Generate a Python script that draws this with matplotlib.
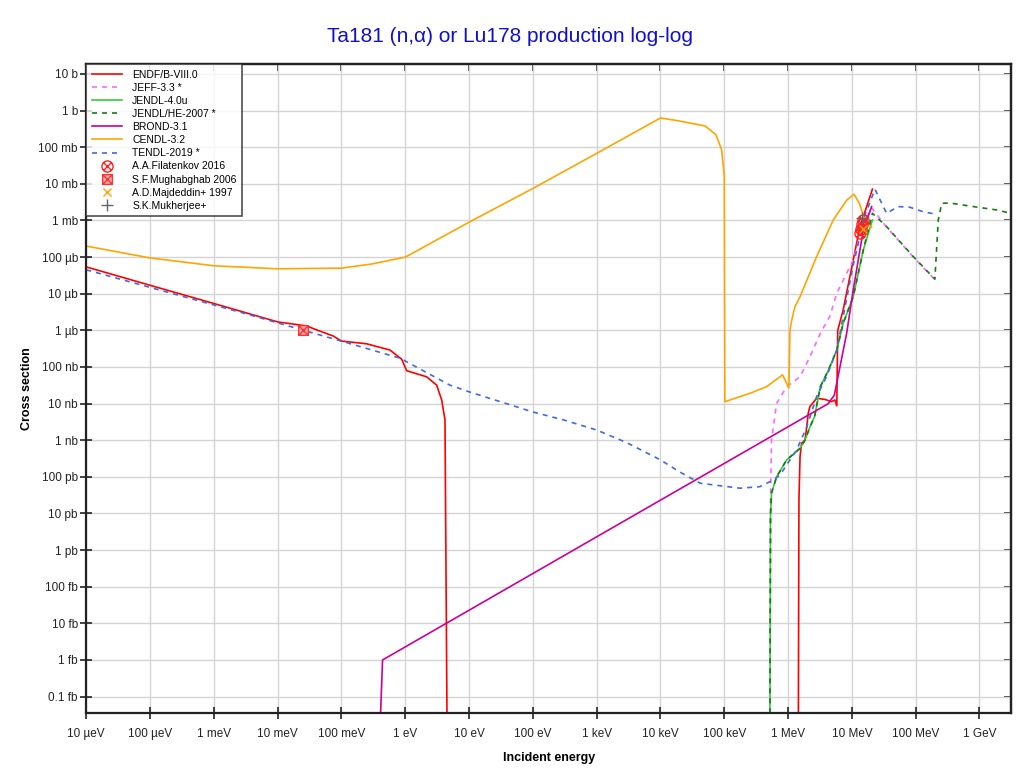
import numpy as np
import matplotlib
matplotlib.use("Agg")
import matplotlib.pyplot as plt
from matplotlib.path import Path

# ---------------- data (energy in eV, cross section in barn) ----------------
endf_E = [1e-5, 1e-4, 1e-3, 1e-2, 0.0285, 0.0408, 0.0743, 0.1, 0.248, 0.575, 0.878,
          1.05, 2.16, 3.1, 3.72, 4.19, 4.5, 1.45e6, 1.48e6, 1.54e6, 1.63e6, 1.84e6,
          1.96e6, 2.07e6, 2.2e6, 2.8e6, 3.8e6, 4.8e6, 5.4e6, 5.8e6, 6.0e6, 7.3e6,
          1.05e7, 1.34e7, 2.1e7]
endf_S = [5.4e-5, 1.7e-5, 5.4e-6, 1.7e-6, 1.32e-6, 1.03e-6, 7.0e-7, 5.1e-7, 4.3e-7, 2.9e-7,
          1.63e-7, 7.9e-8, 5.4e-8, 3.2e-8, 1.26e-8, 3.6e-9, 0, 0, 2.3e-11, 3.6e-10, 8.3e-10,
          1.0e-9, 2.3e-9, 5.5e-9, 8.3e-9, 1.4e-8, 1.3e-8, 1.13e-8, 1.26e-8, 8.7e-9, 1.0e-6,
          3.6e-6, 8.4e-5, 6.8e-4, 7.2e-3]

jeff_E = [5.2e5, 5.3e5, 5.5e5, 6.6e5, 9.5e5, 1.54e6, 2.2e6, 3.2e6, 4.5e6, 5.8e6, 1.05e7,
          1.51e7, 2.04e7, 3.5e7, 9.2e7, 1.9e8]
jeff_S = [0, 2.3e-11, 1.0e-9, 1.0e-8, 2.9e-8, 5.4e-8, 1.9e-7, 8.3e-7, 2.4e-6, 1.03e-5, 8.4e-5,
          8.4e-4, 2.2e-3, 6.6e-4, 1.0e-4, 2.65e-5]

jendl_E = [5.2e5, 5.3e5, 5.5e5, 6.6e5, 9.5e5, 1.54e6, 1.84e6, 2.2e6, 2.6e6, 3.2e6, 4.3e6,
           5.8e6, 7.3e6, 1.05e7, 1.51e7, 2.1e7]
jendl_S = [0, 8.2e-12, 3.6e-11, 1.0e-10, 2.9e-10, 6.0e-10, 1.0e-9, 2.3e-9, 4.4e-9, 2.9e-8,
           8.3e-8, 2.9e-7, 1.56e-6, 8.3e-6, 1.57e-4, 1.03e-3]

jendlhe_E = [5.2e5, 5.3e5, 5.5e5, 6.6e5, 9.5e5, 1.54e6, 1.84e6, 2.2e6, 2.6e6, 3.2e6, 4.3e6,
             5.8e6, 7.3e6, 1.05e7, 1.51e7, 2.1e7, 3.5e7, 9.2e7, 2.0e8, 2.26e8, 2.56e8,
             3.45e8, 8.0e8, 1.86e9, 3.1e9]
jendlhe_S = [0, 8.2e-12, 3.6e-11, 1.0e-10, 2.9e-10, 6.0e-10, 1.0e-9, 2.3e-9, 4.4e-9, 2.9e-8,
             8.3e-8, 2.9e-7, 1.56e-6, 8.3e-6, 1.57e-4, 1.57e-3, 6.8e-4, 1.03e-4, 2.5e-5,
             1.03e-3, 2.95e-3, 3.0e-3, 2.4e-3, 1.94e-3, 1.57e-3]

brond_E = [0.41, 0.44, 4.27e6, 5.3e6, 5.8e6, 8.3e6, 1.05e7, 1.51e7, 2.04e7]
brond_S = [0, 1.0e-15, 1.0e-8, 1.7e-8, 3.7e-8, 8.5e-7, 1.27e-5, 5.5e-4, 2.4e-3]

cendl_E = [1e-5, 1e-4, 1e-3, 1e-2, 0.1, 0.3, 1.0, 10.0, 100.0, 1e3, 1e4, 2.0e4, 5.0e4,
           7.4e4, 9.1e4, 1.0e5, 1.02e5, 2.5e5, 4.6e5, 8.2e5, 1.03e6, 1.07e6, 1.14e6,
           1.28e6, 1.54e6, 2.8e6, 5.1e6, 8.3e6, 1.08e7, 1.31e7, 1.51e7, 1.71e7, 2.04e7]
cendl_S = [2.0e-4, 9.5e-5, 5.8e-5, 4.8e-5, 5.0e-5, 6.5e-5, 1.0e-4, 9.0e-4, 7.5e-3, 6.8e-2,
           0.63, 0.52, 0.38, 0.22, 0.084, 0.016, 1.13e-8, 1.9e-8, 2.9e-8, 6.1e-8, 2.7e-8,
           1.0e-6, 1.9e-6, 4.4e-6, 8.3e-6, 1.03e-4, 1.03e-3, 3.6e-3, 5.2e-3, 2.95e-3,
           1.4e-3, 7.6e-4, 6.5e-4]

tendl_E = [1e-5, 3.68e-3, 0.107, 0.826, 5.0, 10.0, 100.0, 300.0, 1e3, 3e3, 1e4, 2e4, 4.2e4,
           1.76e5, 3.6e5, 5.9e5, 7.5e5, 1.07e6, 1.36e6, 1.96e6, 2.8e6, 4.0e6, 5.8e6, 6.5e6,
           1.05e7, 1.6e7, 2.3e7, 3.5e7, 5.3e7, 8.1e7, 1.3e8, 2.0e8]
tendl_S = [4.5e-5, 2.64e-6, 4.9e-7, 1.74e-7, 3.2e-8, 2.1e-8, 5.9e-9, 3.6e-9, 1.9e-9, 8.5e-10,
           2.9e-10, 1.36e-10, 6.7e-11, 4.9e-11, 5.4e-11, 8.2e-11, 1.13e-10, 2.9e-10, 5.4e-10,
           2.3e-9, 1.55e-8, 5.4e-8, 2.9e-7, 8.3e-7, 6.1e-5, 1.4e-3, 7.1e-3, 1.57e-3, 2.4e-3,
           2.3e-3, 1.74e-3, 1.5e-3]

filatenkov_E = [13.5e6, 13.9e6, 14.3e6, 14.7e6]
filatenkov_S = [0.45e-3, 0.6e-3, 0.8e-3, 1.0e-3]
mughabghab_E = [0.0253]
mughabghab_S = [1.0e-6]
majdeddin_E = [14.8e6]
majdeddin_S = [0.6e-3]
mukherjee_E = [14.3e6]
mukherjee_S = [1.15e-3]

xtick_vals = [10.0 ** k for k in range(-5, 10)]
xtick_labels = ["10 µeV", "100 µeV", "1 meV", "10 meV", "100 meV", "1 eV", "10 eV",
                "100 eV", "1 keV", "10 keV", "100 keV", "1 MeV", "10 MeV", "100 MeV", "1 GeV"]
ytick_vals = [10.0 ** k for k in range(1, -17, -1)]
ytick_labels = ["10 b", "1 b", "100 mb", "10 mb", "1 mb", "100 µb", "10 µb", "1 µb",
                "100 nb", "10 nb", "1 nb", "100 pb", "10 pb", "1 pb", "100 fb", "10 fb",
                "1 fb", "0.1 fb"]

# marker shapes: circle with a cross, square with a cross
d = 0.707
cross = Path([(-d, -d), (d, d), (-d, d), (d, -d)],
             [Path.MOVETO, Path.LINETO, Path.MOVETO, Path.LINETO])
circ_x = Path.make_compound_path(Path.unit_circle(), cross)
sq = Path([(-1, -1), (1, -1), (1, 1), (-1, 1), (-1, -1)],
          [Path.MOVETO, Path.LINETO, Path.LINETO, Path.LINETO, Path.CLOSEPOLY])
diag = Path([(-1, -1), (1, 1), (-1, 1), (1, -1)],
            [Path.MOVETO, Path.LINETO, Path.MOVETO, Path.LINETO])
sq_x = Path.make_compound_path(sq, diag)

# ---------------- figure ----------------
plt.rcParams["font.family"] = ["Liberation Sans", "DejaVu Sans"]
W, H = 1020, 774
fig = plt.figure(figsize=(W / 100, H / 100), dpi=100)
ax = fig.add_axes([86.3 / W, 1 - 713.3 / H, (1011 - 86.3) / W, (713.3 - 64.3) / H])
ax.set_xscale("log")
ax.set_yscale("log")
xlo, xhi = 1e-5, 3.12e9
ylo, yhi = 3.5e-17, 18.4
ax.set_xlim(xlo, xhi)
ax.set_ylim(ylo, yhi)


def floor(s):
    # zero cross sections are drawn along the bottom of the frame
    s = np.asarray(s, dtype=float)
    return np.where(s > 0, s, ylo)


curves = [
    ("ENDF/B-VIII.0", endf_E, endf_S, "#ff0000", "-"),
    ("JEFF-3.3 *", jeff_E, jeff_S, "#ff66ff", (0, (3, 3))),
    ("JENDL-4.0u", jendl_E, jendl_S, "#33cc33", "-"),
    ("JENDL/HE-2007 *", jendlhe_E, jendlhe_S, "#1a7a1a", (0, (3, 3))),
    ("BROND-3.1", brond_E, brond_S, "#cc0099", "-"),
    ("CENDL-3.2", cendl_E, cendl_S, "#ffa500", "-"),
    ("TENDL-2019 *", tendl_E, tendl_S, "#4169e1", (0, (3, 3))),
]
for name, e, s, c, ls in curves:
    ax.plot(e, floor(s), color=c, linestyle=ls, linewidth=1.2, label=name)

ax.plot(filatenkov_E, filatenkov_S, linestyle="none", marker=circ_x, color="#ff2020",
        mfc="none", markersize=8, markeredgewidth=1.0, label="A.A.Filatenkov 2016")
ax.plot(mughabghab_E, mughabghab_S, linestyle="none", marker=sq_x, color="#ff3030",
        mfc="#ffb0b0", markersize=7, markeredgewidth=1.0, label="S.F.Mughabghab 2006")
ax.plot(majdeddin_E, majdeddin_S, linestyle="none", marker="x", color="#ffa500",
        markersize=6, markeredgewidth=1.0, label="A.D.Majdeddin+ 1997")
ax.plot(mukherjee_E, mukherjee_S, linestyle="none", marker="+", color="#666666",
        markersize=8, markeredgewidth=1.0, label="S.K.Mukherjee+")

ax.set_xticks(xtick_vals)
ax.set_xticklabels(xtick_labels)
ax.set_yticks(ytick_vals)
ax.set_yticklabels(ytick_labels)
ax.minorticks_off()
ax.tick_params(axis="both", which="major", direction="inout", length=9, width=1.2,
               labelsize=8.5, colors="#222222", pad=1.5)
ax.tick_params(axis="x", pad=6)
ax.grid(True, which="major", color="#d4d4d4", linewidth=1.0)
ax.set_axisbelow(True)
for sp in ax.spines.values():
    sp.set_color("#222222")
    sp.set_linewidth(1.6)

# small inward ticks on the right and top frame
sec_r = ax.secondary_yaxis("right")
sec_r.set_yticks(ytick_vals)
sec_r.tick_params(direction="in", length=5, width=1.2, labelright=False, colors="#222222")
sec_r.minorticks_off()
sec_t = ax.secondary_xaxis("top")
sec_t.set_xticks(xtick_vals)
sec_t.tick_params(direction="in", length=5, width=1.2, labeltop=False, colors="#222222")
sec_t.minorticks_off()
for s2 in (sec_r, sec_t):
    for sp in s2.spines.values():
        sp.set_linewidth(1.6)
        sp.set_color("#222222")

ax.set_xlabel("Incident energy", fontsize=9, fontweight="bold", labelpad=9)
ax.set_ylabel("Cross section", fontsize=9, fontweight="bold", labelpad=4)
fig.text(0.5, 1 - 36 / H, "Ta181 (n,α) or Lu178 production log-log", ha="center",
         va="center", fontsize=15, color="#1010cc")

leg = ax.legend(loc="upper left", bbox_to_anchor=(0, 1), borderaxespad=0, fontsize=7.5,
                frameon=True, fancybox=False, edgecolor="#222222", handlelength=2.9,
                labelspacing=0.3, borderpad=0.5, handletextpad=1.0)
leg.get_frame().set_linewidth(1.2)

fig.savefig("out.png", dpi=100)
